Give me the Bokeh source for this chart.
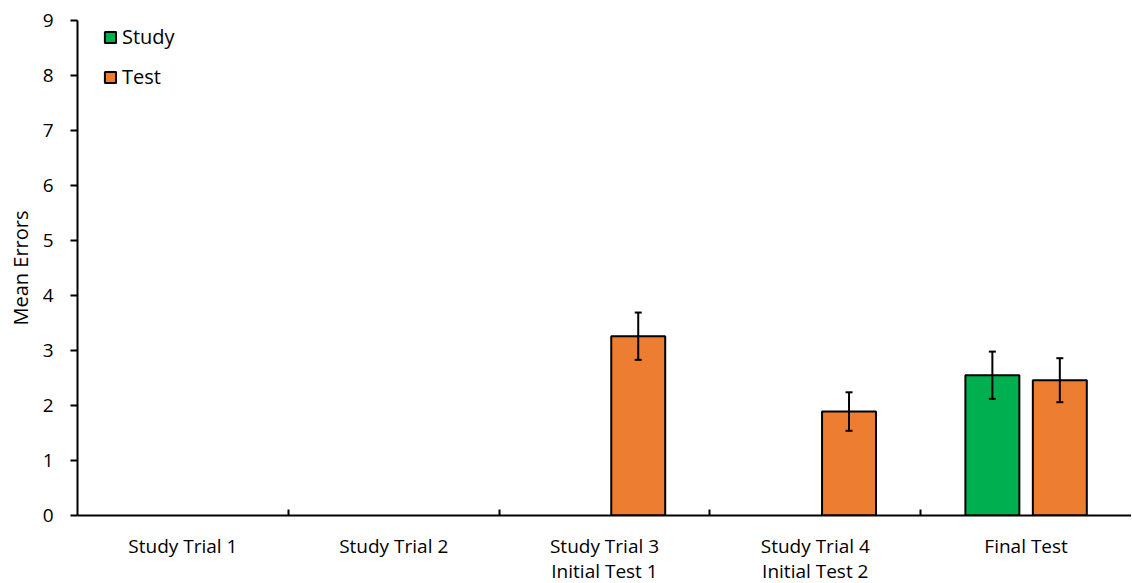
from bokeh.plotting import figure
from bokeh.models import (FixedTicker, Whisker, TeeHead, ColumnDataSource, Legend,
                          LegendItem, Range1d)
from bokeh.embed import file_html
from bokeh.resources import INLINE

categories = ["Study Trial 1", "Study Trial 2", "Study Trial 3\nInitial Test 1",
              "Study Trial 4\nInitial Test 2", "Final Test"]
study_mean = [None, None, None, None, 2.55]
study_err = [None, None, None, None, 0.43]
test_mean = [None, None, 3.26, 1.89, 2.46]
test_err = [None, None, 0.43, 0.35, 0.40]
y_ticks = [0, 1, 2, 3, 4, 5, 6, 7, 8, 9]

GREEN = "#00B050"
ORANGE = "#ED7D31"
FONT = "Open Sans"
OFFSET = 0.16
BAR_W = 0.256


def make_source(means, errs, offset):
    xs, tops, ups, los = [], [], [], []
    for i, (m, e) in enumerate(zip(means, errs)):
        if m is None:
            continue
        xs.append(i + 0.5 + offset)
        tops.append(m)
        ups.append(m + e)
        los.append(m - e)
    return ColumnDataSource(dict(x=xs, top=tops, upper=ups, lower=los))


p = figure(frame_width=1054, frame_height=495, output_backend="svg", toolbar_location=None,
           x_range=Range1d(0, len(categories)), y_range=Range1d(0, 9),
           min_border_left=77, min_border_right=0, min_border_top=20, min_border_bottom=50)
p.outline_line_color = None
p.xgrid.grid_line_color = None
p.ygrid.grid_line_color = None
p.background_fill_color = "white"
p.border_fill_color = "white"

study_src = make_source(study_mean, study_err, -OFFSET)
test_src = make_source(test_mean, test_err, OFFSET)

r_study = p.vbar(x="x", top="top", width=BAR_W, source=study_src, fill_color=GREEN,
                 line_color="black", line_width=2)
r_test = p.vbar(x="x", top="top", width=BAR_W, source=test_src, fill_color=ORANGE,
                line_color="black", line_width=2)

for src in (study_src, test_src):
    w = Whisker(source=src, base="x", upper="upper", lower="lower", line_width=2,
                line_color="black", level="overlay",
                upper_head=TeeHead(size=7, line_width=2, line_color="black"),
                lower_head=TeeHead(size=7, line_width=2, line_color="black"))
    p.add_layout(w)

# x axis
centers = [i + 0.5 for i in range(len(categories))]
p.xaxis.ticker = FixedTicker(ticks=centers, minor_ticks=list(range(1, len(categories))))
p.xaxis.major_label_overrides = {c: lab for c, lab in zip(centers, categories)}
p.xaxis.major_tick_line_color = None
p.xaxis.major_tick_in = 0
p.xaxis.major_tick_out = 0
p.xaxis.minor_tick_in = 6
p.xaxis.minor_tick_out = 0
p.xaxis.minor_tick_line_width = 2
p.xaxis.minor_tick_line_color = "black"
p.xaxis.axis_line_width = 2
p.xaxis.axis_line_color = "black"
p.xaxis.major_label_text_font = FONT
p.xaxis.major_label_text_font_size = "19px"
p.xaxis.major_label_text_line_height = 0.97
p.xaxis.major_label_text_color = "black"
p.xaxis.major_label_standoff = 17

# y axis
p.yaxis.ticker = FixedTicker(ticks=y_ticks, minor_ticks=[])
p.yaxis.major_tick_in = 0
p.yaxis.major_tick_out = 7
p.yaxis.major_tick_line_width = 2
p.yaxis.major_tick_line_color = "black"
p.yaxis.axis_line_width = 2
p.yaxis.axis_line_color = "black"
p.yaxis.major_label_text_font = FONT
p.yaxis.major_label_text_font_size = "19px"
p.yaxis.major_label_text_color = "black"
p.yaxis.major_label_standoff = 17
p.yaxis.axis_label = "Mean Errors"
p.yaxis.axis_label_text_font = FONT
p.yaxis.axis_label_text_font_size = "20px"
p.yaxis.axis_label_text_font_style = "normal"
p.yaxis.axis_label_text_color = "black"
p.yaxis.axis_label_standoff = 6

legend = Legend(items=[LegendItem(label="Study", renderers=[r_study]),
                       LegendItem(label="Test", renderers=[r_test])],
                location=(26, 425), padding=0, margin=0, spacing=13,
                glyph_width=14, glyph_height=14, label_height=25,
                label_standoff=5, border_line_color=None,
                background_fill_alpha=0,
                label_text_font=FONT, label_text_font_size="20px",
                label_text_color="black")
p.add_layout(legend)

open("out.html", "w").write(file_html(p, INLINE))
